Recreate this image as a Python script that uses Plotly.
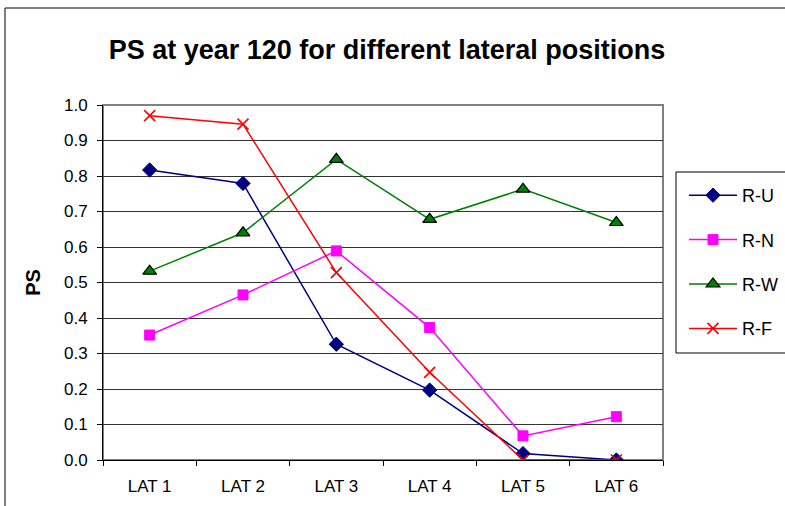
import plotly.graph_objects as go

# Lateral positions and PS at year 120 for each series
categories = ["LAT 1", "LAT 2", "LAT 3", "LAT 4", "LAT 5", "LAT 6"]
r_u = [0.817, 0.779, 0.326, 0.197, 0.018, 0.0]
r_n = [0.352, 0.465, 0.589, 0.373, 0.068, 0.122]
r_w = [0.532, 0.640, 0.847, 0.678, 0.763, 0.669]
r_f = [0.970, 0.946, 0.528, 0.247, 0.0, 0.0]
y_ticks = [0.0, 0.1, 0.2, 0.3, 0.4, 0.5, 0.6, 0.7, 0.8, 0.9, 1.0]

FONT = "Liberation Sans, Arial, sans-serif"

series = [
    ("R-U", r_u, "#000080", dict(symbol="diamond", size=11, color="#000080",
                                  line=dict(color="#000080", width=1))),
    ("R-N", r_n, "#FF00FF", dict(symbol="square", size=10, color="#FF00FF",
                                  line=dict(color="#FF00FF", width=1))),
    ("R-W", r_w, "#008000", dict(symbol="triangle-up", size=12, color="#008000",
                                  line=dict(color="#000000", width=1.2))),
    ("R-F", r_f, "#FF0000", dict(symbol="x-thin-open", size=11, color="#FF0000",
                                  line=dict(color="#FF0000", width=1.6))),
]

fig = go.Figure()
for i, (name, vals, col, marker) in enumerate(series):
    fig.add_trace(go.Scatter(
        x=categories, y=vals, name=name, mode="lines+markers",
        line=dict(color=col, width=1.5), marker=marker,
        legendgroup=f"g{i}",
    ))

W, H = 785, 506
L, R, T, B = 103, 663, 105, 460
pw, ph = R - L, B - T


def px(x):
    return (x - L) / pw


def py(y):
    return (B - y) / ph


shapes = [
    # outer chart frame
    dict(type="rect", xref="paper", yref="paper", x0=px(5), x1=px(800),
         y0=py(520), y1=py(8), line=dict(color="#000000", width=1), layer="below"),
    # plot area frame
    dict(type="rect", xref="paper", yref="paper", x0=0, x1=1, y0=0, y1=1,
         line=dict(color="#808080", width=2), layer="below"),
    # legend frame
    dict(type="rect", xref="paper", yref="paper", x0=px(676), x1=px(800),
         y0=py(353), y1=py(172), line=dict(color="#000000", width=1)),
]

fig.update_layout(
    width=W, height=H,
    margin=dict(l=L, r=W - R, t=T, b=H - B, pad=0, autoexpand=False),
    paper_bgcolor="white", plot_bgcolor="white",
    font=dict(family=FONT, size=17, color="#000000"),
    title=dict(text="<b>PS at year 120 for different lateral positions</b>",
               x=387 / W, xanchor="center", yref="container",
               y=1 - 50 / H, yanchor="middle",
               font=dict(family=FONT, size=27, color="#000000")),
    showlegend=True,
    legend=dict(x=px(684), y=py(177), xanchor="left", yanchor="top",
                bgcolor="rgba(0,0,0,0)", borderwidth=0,
                font=dict(family=FONT, size=18), tracegroupgap=18,
                itemwidth=48),
    shapes=shapes,
)

fig.update_xaxes(
    type="category", range=[-0.5, 5.5],
    showline=True, linecolor="#000000", linewidth=1,
    ticks="outside", tickson="boundaries", ticklen=5, tickcolor="#000000",
    ticklabelstandoff=11,
    showgrid=False, zeroline=False,
    tickfont=dict(family=FONT, size=17),
)
fig.update_yaxes(
    range=[0, 1.0], tickvals=y_ticks, tickformat=".1f",
    showline=True, linecolor="#000000", linewidth=1,
    ticks="outside", ticklen=5, tickcolor="#000000",
    ticklabelstandoff=6,
    showgrid=True, gridcolor="#333333", gridwidth=1,
    zeroline=False,
    tickfont=dict(family=FONT, size=17),
    title=dict(text="<b>PS</b>", standoff=17,
               font=dict(family=FONT, size=20)),
)

fig.write_html("out.html")
